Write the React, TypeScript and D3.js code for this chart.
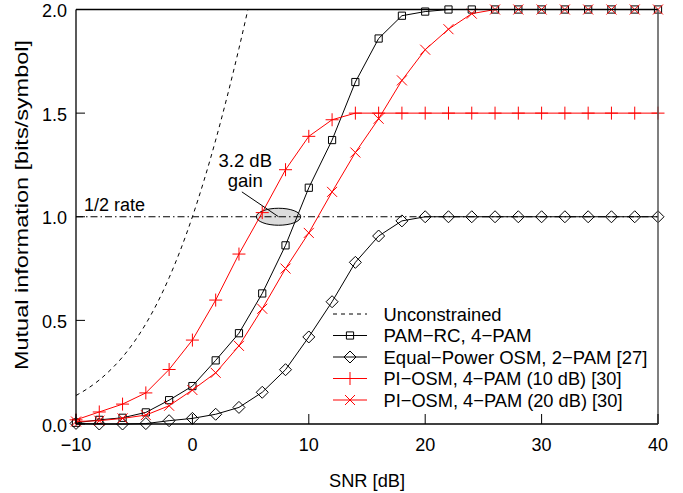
import React from "react";
import * as d3 from "d3";

const snr = [-10, -8, -6, -4, -2, 0, 2, 4, 6, 8, 10, 12, 14, 16, 18, 20, 22, 24, 26, 28, 30, 32, 34, 36, 38, 40];
const pamRc = [0.006, 0.02, 0.03, 0.056, 0.115, 0.183, 0.307, 0.438, 0.63, 0.862, 1.14, 1.37, 1.65, 1.86, 1.97, 1.99, 2.0, 2.0, 2.0, 2.0, 2.0, 2.0, 2.0, 2.0, 2.0, 2.0];
const equalPower = [0.003, 0.0, 0.0, 0.002, 0.016, 0.027, 0.047, 0.08, 0.153, 0.262, 0.42, 0.59, 0.78, 0.907, 0.98, 1.0, 1.0, 1.0, 1.0, 1.0, 1.0, 1.0, 1.0, 1.0, 1.0, 1.0];
const piOsm10 = [0.02, 0.058, 0.096, 0.15, 0.263, 0.405, 0.598, 0.82, 1.02, 1.227, 1.388, 1.468, 1.5, 1.5, 1.5, 1.5, 1.5, 1.5, 1.5, 1.5, 1.5, 1.5, 1.5, 1.5, 1.5, 1.5];
const piOsm20 = [0.012, 0.016, 0.027, 0.043, 0.088, 0.164, 0.247, 0.377, 0.556, 0.75, 0.922, 1.12, 1.31, 1.473, 1.658, 1.806, 1.905, 1.98, 2.0, 2.0, 2.0, 2.0, 2.0, 2.0, 2.0, 2.0];
const uncX = [-10, -9, -8, -7, -6, -5, -4, -3, -2, -1, 0, 1, 2, 3, 4, 4.77];
const uncY = [0.1375, 0.1711, 0.2124, 0.263, 0.3233, 0.3964, 0.4835, 0.5861, 0.7057, 0.8434, 1.0, 1.1757, 1.3701, 1.5827, 1.8122, 2.0];
const xTicks = [-10, 0, 10, 20, 30, 40];
const yTicks = [0, 0.5, 1.0, 1.5, 2.0];
const legendLabels = [
  "Unconstrained",
  "PAM\u2212RC, 4\u2212PAM",
  "Equal\u2212Power OSM, 2\u2212PAM [27]",
  "PI\u2212OSM, 4\u2212PAM (10 dB) [30]",
  "PI\u2212OSM, 4\u2212PAM (20 dB) [30]",
];
const legendWidths = [118, 148, 264, 238, 239];

const W = 683, H = 493;
const L = 76, R = 658, T = 9.5, B = 424;
const FONT = "'Liberation Sans', Arial, Helvetica, sans-serif";

type Kind = "square" | "diamond" | "plus" | "cross";

function markerPath(kind: Kind, x: number, y: number): string {
  if (kind === "square") { const s = 3.6; return `M${x - s},${y - s}H${x + s}V${y + s}H${x - s}Z`; }
  if (kind === "diamond") { const s = 6; return `M${x},${y - s}L${x + s},${y}L${x},${y + s}L${x - s},${y}Z`; }
  if (kind === "plus") { const s = 6.5; return `M${x - s},${y}H${x + s}M${x},${y - s}V${y + s}`; }
  const s = 5; return `M${x - s},${y - s}L${x + s},${y + s}M${x - s},${y + s}L${x + s},${y - s}`;
}

export default function App() {
  const x = d3.scaleLinear().domain([-10, 40]).range([L, R]);
  const y = d3.scaleLinear().domain([0, 2]).range([B, T]);
  const line = d3.line<[number, number]>().x(d => x(d[0])).y(d => y(d[1]));
  const smooth = d3.line<[number, number]>().x(d => x(d[0])).y(d => y(d[1])).curve(d3.curveMonotoneX);

  const series: { vals: number[]; color: string; kind: Kind }[] = [
    { vals: pamRc, color: "#000", kind: "square" },
    { vals: equalPower, color: "#000", kind: "diamond" },
    { vals: piOsm10, color: "#ff0000", kind: "plus" },
    { vals: piOsm20, color: "#ff0000", kind: "cross" },
  ];

  const uncPts: [number, number][] = uncX.map((v, i) => [v, uncY[i]]);
  const legendY = [314, 335.5, 357, 378.5, 400];
  const lx0 = 333, lx1 = 367, ltx = 383.5;

  return (
    <svg width={W} height={H} style={{ position: "absolute", left: 0, top: 0, background: "#fff" }} fontFamily={FONT}>
      <defs>
        <clipPath id="plotclip"><rect x={L} y={T - 1} width={R - L} height={B - T + 2} /></clipPath>
      </defs>
      <ellipse cx={x(7.4)} cy={y(1.0)} rx={x(1.9) - x(0)} ry={y(0) - y(0.041)} fill="#dcdcdc" stroke="#000" strokeWidth={1} />
      <line x1={L} x2={R} y1={y(1)} y2={y(1)} stroke="#000" strokeWidth={1} strokeDasharray="7,3,1.5,3" />
      <path d={smooth(uncPts) || ""} fill="none" stroke="#000" strokeWidth={1} strokeDasharray="4,4" clipPath="url(#plotclip)" />
      {series.map((s, si) => {
        const pts: [number, number][] = snr.map((v, i) => [v, s.vals[i]]);
        return (
          <g key={si}>
            <path d={line(pts) || ""} fill="none" stroke={s.color} strokeWidth={1} />
            {pts.map((p, i) => (
              <path key={i} d={markerPath(s.kind, x(p[0]), y(p[1]))} fill="none" stroke={s.color} strokeWidth={1} />
            ))}
          </g>
        );
      })}
      <line x1={x(4.25)} y1={y(1.12)} x2={x(7.4)} y2={y(1.0)} stroke="#000" strokeWidth={1} />
      <text x={x(4.54)} y={y(1.234) - 1} fontSize={18.5} textAnchor="middle">3.2 dB</text>
      <text x={x(4.54)} y={y(1.147) + 1} fontSize={18.5} textAnchor="middle">gain</text>
      <text x={84} y={y(1.0) - 6} fontSize={18}>1/2 rate</text>
      <line x1={L} x2={R} y1={T} y2={T} stroke="#000" strokeWidth={1.3} />
      <line x1={L} x2={R} y1={B} y2={B} stroke="#000" strokeWidth={1.3} />
      <line x1={L} x2={L} y1={T} y2={B} stroke="#000" strokeWidth={1.3} />
      <line x1={R} x2={R} y1={T} y2={B} stroke="#555" strokeWidth={1.5} />
      {xTicks.map(t => (
        <g key={"x" + t}>
          <line x1={x(t)} x2={x(t)} y1={B} y2={B - 10} stroke="#000" strokeWidth={1} />
          <text x={x(t)} y={B + 27} fontSize={18} textAnchor="middle">{t < 0 ? "\u2212" + Math.abs(t) : String(t)}</text>
        </g>
      ))}
      {yTicks.map(t => (
        <g key={"y" + t}>
          <line x1={L} x2={L + 9} y1={y(t)} y2={y(t)} stroke="#000" strokeWidth={1} />
          <text x={L - 9} y={y(t) + 7.5} fontSize={18} textAnchor="end">{t.toFixed(1)}</text>
        </g>
      ))}
      <text x={(L + R) / 2} y={486.5} fontSize={18.3} textAnchor="middle" textLength={76} lengthAdjust="spacingAndGlyphs">SNR [dB]</text>
      <text transform={`translate(28,205) rotate(-90)`} fontSize={18.5} textAnchor="middle" textLength={330} lengthAdjust="spacingAndGlyphs">Mutual information [bits/symbol]</text>
      <line x1={lx0} x2={lx1} y1={legendY[0]} y2={legendY[0]} stroke="#000" strokeWidth={1} strokeDasharray="4,4" />
      {series.map((s, si) => {
        const ly = legendY[si + 1];
        return (
          <g key={"lg" + si}>
            <line x1={lx0} x2={lx1} y1={ly} y2={ly} stroke={s.color} strokeWidth={1} />
            <path d={markerPath(s.kind, (lx0 + lx1) / 2, ly)} fill="none" stroke={s.color} strokeWidth={1} />
          </g>
        );
      })}
      {legendLabels.map((lab, i) => (
        <text key={"lt" + i} x={ltx} y={legendY[i] + 6.7} fontSize={18.5} textLength={legendWidths[i]} lengthAdjust="spacingAndGlyphs">{lab}</text>
      ))}
    </svg>
  );
}
